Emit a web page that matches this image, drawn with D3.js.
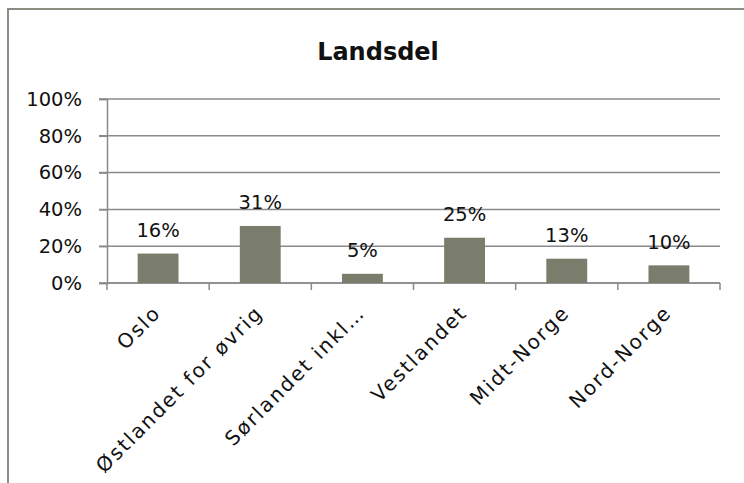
<!DOCTYPE html>
<html>
<head>
<meta charset="utf-8">
<script src="https://cdn.jsdelivr.net/npm/d3@7"></script>
<style>
  body { margin: 0; background: #fff; }
  svg { display: block; }
  text { font-family: "DejaVu Sans", sans-serif; fill: #111; }
</style>
</head>
<body>
<svg id="root" width="744" height="483"></svg>
<script>
const title = "Landsdel";
const categories = ["Oslo", "Østlandet for øvrig", "Sørlandet inkl…", "Vestlandet", "Midt-Norge", "Nord-Norge"];
const values = [0.16, 0.31, 0.05, 0.246, 0.132, 0.096];
const yTicks = [0, 0.2, 0.4, 0.6, 0.8, 1];

const svg = d3.select("#root");
const plot = { left: 107, right: 720, top: 99, bottom: 283 };
const gridColor = "#8a8a8a";

// chart frame (only top and left edges fall inside the picture)
svg.append("rect")
  .attr("x", 8).attr("y", 9)
  .attr("width", 760).attr("height", 500)
  .attr("fill", "none")
  .attr("stroke", "#8b8d83")
  .attr("stroke-width", 2);

svg.append("text")
  .attr("x", 378).attr("y", 60)
  .attr("text-anchor", "middle")
  .style("font-size", "24px")
  .style("font-weight", "bold")
  .text(title);

let x = d3.scaleBand()
  .domain(categories)
  .range([plot.left, plot.right]);

let y = d3.scaleLinear()
  .domain([0, 1])
  .range([plot.bottom, plot.top]);

// gridlines
svg.append("g")
  .selectAll("line")
  .data(yTicks)
  .enter().append("line")
  .attr("x1", plot.left - 8)
  .attr("x2", plot.right)
  .attr("y1", d => y(d))
  .attr("y2", d => y(d))
  .attr("stroke", gridColor)
  .attr("stroke-width", 1.5);

let yAxis = svg.append("g")
  .attr("transform", `translate(${plot.left},0)`)
  .call(d3.axisLeft(y).tickValues(yTicks).tickFormat(d3.format(".0%")).tickSize(8).tickPadding(17));
yAxis.select(".domain").attr("stroke", gridColor).attr("stroke-width", 1.5);
yAxis.selectAll(".tick line").attr("stroke", gridColor).attr("stroke-width", 1.5);
yAxis.selectAll(".tick text")
  .style("font-family", "DejaVu Sans, sans-serif")
  .style("font-size", "19.5px")
  .attr("fill", "#111");

// x axis baseline and category ticks
svg.append("line")
  .attr("x1", plot.left).attr("x2", plot.right)
  .attr("y1", plot.bottom).attr("y2", plot.bottom)
  .attr("stroke", gridColor).attr("stroke-width", 1.5);

let bounds = categories.map(c => x(c)).concat([x.range()[1]]);
svg.append("g")
  .selectAll("line")
  .data(bounds)
  .enter().append("line")
  .attr("x1", d => d).attr("x2", d => d)
  .attr("y1", plot.bottom).attr("y2", plot.bottom + 7)
  .attr("stroke", gridColor).attr("stroke-width", 1.5);

// bars
let barW = x.bandwidth() * 0.4;
svg.append("g")
  .selectAll("rect")
  .data(values)
  .enter().append("rect")
  .attr("x", (d, i) => x(categories[i]) + x.bandwidth() / 2 - barW / 2)
  .attr("y", d => y(d))
  .attr("width", barW)
  .attr("height", d => y(0) - y(d))
  .attr("fill", "#7a7c6c");

// value labels
svg.append("g")
  .selectAll("text")
  .data(values)
  .enter().append("text")
  .attr("x", (d, i) => x(categories[i]) + x.bandwidth() / 2)
  .attr("y", d => y(d) - 16.5)
  .attr("text-anchor", "middle")
  .style("font-size", "19.5px")
  .text(d => d3.format(".0%")(d));

// rotated category labels
svg.append("g")
  .selectAll("text")
  .data(categories)
  .enter().append("text")
  .attr("transform", d => `translate(${x(d) + x.bandwidth() / 2 + 4},${plot.bottom + 31}) rotate(-45)`)
  .attr("text-anchor", "end")
  .style("font-size", "20px")
  .style("letter-spacing", "2px")
  .text(d => d);
</script>
</body>
</html>
